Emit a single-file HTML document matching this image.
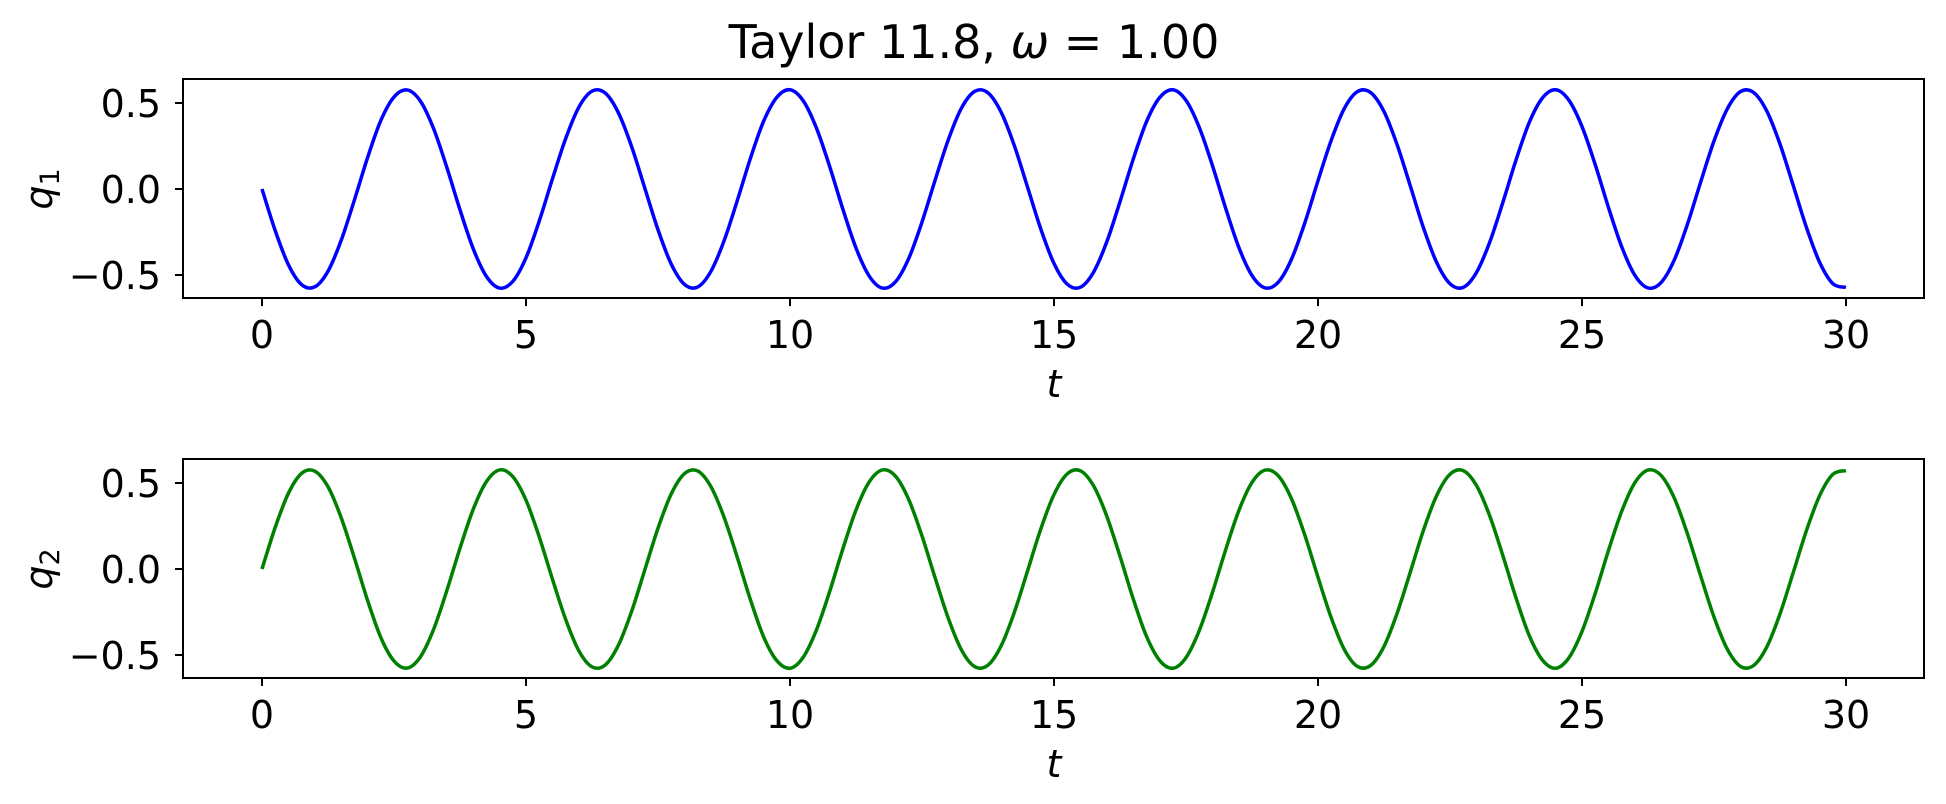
<!DOCTYPE html>
<html><head><meta charset="utf-8">
<style>
html,body{margin:0;padding:0;background:#fff;}
svg{display:block;}
text{font-family:"DejaVu Sans","Liberation Sans",sans-serif;fill:#000;}
</style></head>
<body>
<svg id="chart" width="1946" height="804" viewBox="0 0 1946 804" xmlns="http://www.w3.org/2000/svg">
<rect x="0" y="0" width="1946" height="804" fill="#fff"/>
<text x="974" y="58" font-size="46" text-anchor="middle">Taylor 11.8, <tspan font-style="italic">ω</tspan> = 1.00</text>
</svg>
<script>
const tStart = 0, tStep = 0.25;
const xTicks = [0, 5, 10, 15, 20, 25, 30];
const yTicks = [0.5, 0.0, -0.5];
const yTickLabels = ["0.5", "0.0", "\u22120.5"];
const q1Values = [0,-0.242,-0.440,-0.556,-0.569,-0.478,-0.298,-0.064,0.183,0.398,0.535,0.576,0.511,0.351,0.126,-0.121,-0.347,-0.508,-0.576,-0.537,-0.400,-0.187,0.058,0.292,0.475,0.569,0.558,0.443,0.247,0.005,-0.237,-0.436,-0.554,-0.570,-0.480,-0.302,-0.069,0.178,0.394,0.533,0.577,0.513,0.355,0.132,-0.116,-0.343,-0.506,-0.576,-0.539,-0.403,-0.192,0.053,0.288,0.472,0.568,0.559,0.446,0.251,0.010,-0.233,-0.433,-0.553,-0.571,-0.483,-0.307,-0.074,0.173,0.390,0.531,0.577,0.515,0.359,0.137,-0.111,-0.339,-0.503,-0.575,-0.541,-0.407,-0.197,0.048,0.283,0.469,0.567,0.560,0.450,0.256,0.016,-0.228,-0.429,-0.551,-0.572,-0.486,-0.311,-0.079,0.168,0.386,0.529,0.577,0.517,0.363,0.142,-0.106,-0.334,-0.501,-0.575,-0.543,-0.411,-0.202,0.043,0.279,0.465,0.566,0.561,0.453,0.261,0.021,-0.223,-0.426,-0.550,-0.572];
const q2Values = [0,0.242,0.440,0.556,0.569,0.478,0.298,0.064,-0.183,-0.398,-0.535,-0.576,-0.511,-0.351,-0.126,0.121,0.347,0.508,0.576,0.537,0.400,0.187,-0.058,-0.292,-0.475,-0.569,-0.558,-0.443,-0.247,-0.005,0.237,0.436,0.554,0.570,0.480,0.302,0.069,-0.178,-0.394,-0.533,-0.577,-0.513,-0.355,-0.132,0.116,0.343,0.506,0.576,0.539,0.403,0.192,-0.053,-0.288,-0.472,-0.568,-0.559,-0.446,-0.251,-0.010,0.233,0.433,0.553,0.571,0.483,0.307,0.074,-0.173,-0.390,-0.531,-0.577,-0.515,-0.359,-0.137,0.111,0.339,0.503,0.575,0.541,0.407,0.197,-0.048,-0.283,-0.469,-0.567,-0.560,-0.450,-0.256,-0.016,0.228,0.429,0.551,0.572,0.486,0.311,0.079,-0.168,-0.386,-0.529,-0.577,-0.517,-0.363,-0.142,0.106,0.334,0.501,0.575,0.543,0.411,0.202,-0.043,-0.279,-0.465,-0.566,-0.561,-0.453,-0.261,-0.021,0.223,0.426,0.550,0.572];

const NS = "http://www.w3.org/2000/svg";
const svg = document.getElementById('chart');
function mk(tag, attrs){ const e=document.createElementNS(NS,tag); for(const k in attrs) e.setAttribute(k,attrs[k]); return e; }

const X0 = 262, XPU = 52.8;
function xScale(t){ return X0 + t*XPU; }

function panel(yOff, values, color, label, idx){
  const zeroY = 189 + yOff, YPU = 172;
  const yScale = v => zeroY - v*YPU;
  const g = mk('g',{});
  
  
  svg.appendChild(g);
  const top = 79 + yOff, bot = 298 + yOff, left = 183, right = 1924;
  const pts = values.map((v,i)=>[xScale(tStart + i*tStep), yScale(v)]);
  let d = 'M' + pts[0][0].toFixed(2) + ' ' + pts[0][1].toFixed(2);
  for(let i=0;i<pts.length-1;i++){
    const p0 = pts[Math.max(0,i-1)], p1 = pts[i], p2 = pts[i+1], p3 = pts[Math.min(pts.length-1,i+2)];
    const c1x = p1[0] + (p2[0]-p0[0])/6, c1y = p1[1] + (p2[1]-p0[1])/6;
    const c2x = p2[0] - (p3[0]-p1[0])/6, c2y = p2[1] - (p3[1]-p1[1])/6;
    d += ' C' + c1x.toFixed(2)+' '+c1y.toFixed(2)+' '+c2x.toFixed(2)+' '+c2y.toFixed(2)+' '+p2[0].toFixed(2)+' '+p2[1].toFixed(2);
  }
  const path = mk('path',{d:d, fill:'none', stroke:color, 'stroke-width':3.5, 'stroke-linejoin':'round'});
  
  
  g.appendChild(path);
  const frame = mk('rect',{x:left, y:top, width:right-left, height:bot-top, fill:'none', stroke:'#000', 'stroke-width':2});
  
  
  g.appendChild(frame);
  xTicks.forEach(t=>{
    const x = xScale(t);
    g.appendChild(mk('line',{x1:x,y1:bot,x2:x,y2:bot+8,stroke:'#000','stroke-width':2}));
    const tx = mk('text',{x:x, y:bot+50, 'font-size':38, 'text-anchor':'middle'});
    
    
    tx.textContent = String(t);
    g.appendChild(tx);
  });
  yTicks.forEach((v,i)=>{
    const y = yScale(v);
    g.appendChild(mk('line',{x1:left-8,y1:y,x2:left,y2:y,stroke:'#000','stroke-width':2}));
    const ty = mk('text',{x:161, y:y+14, 'font-size':38, 'text-anchor':'end'});
    
    
    ty.textContent = yTickLabels[i];
    g.appendChild(ty);
  });
  const xl = mk('text',{x:xScale(15), y:bot+99, 'font-size':38, 'font-style':'italic', 'text-anchor':'middle'});
  
  
  xl.textContent = 't';
  g.appendChild(xl);
  const yl = mk('text',{x:0, y:0, 'font-size':38, 'text-anchor':'middle', transform:'translate(52,'+zeroY+') rotate(-90)'});
  
  
  const q = mk('tspan',{'font-style':'italic'}); q.textContent='q';
  const sub = mk('tspan',{'font-size':27, dy:7}); sub.textContent = String(idx);
  yl.appendChild(q); yl.appendChild(sub);
  g.appendChild(yl);
}
panel(0, q1Values, '#0000ff', 'q1', 1);
panel(380, q2Values, '#008000', 'q2', 2);
</script>
</body></html>
